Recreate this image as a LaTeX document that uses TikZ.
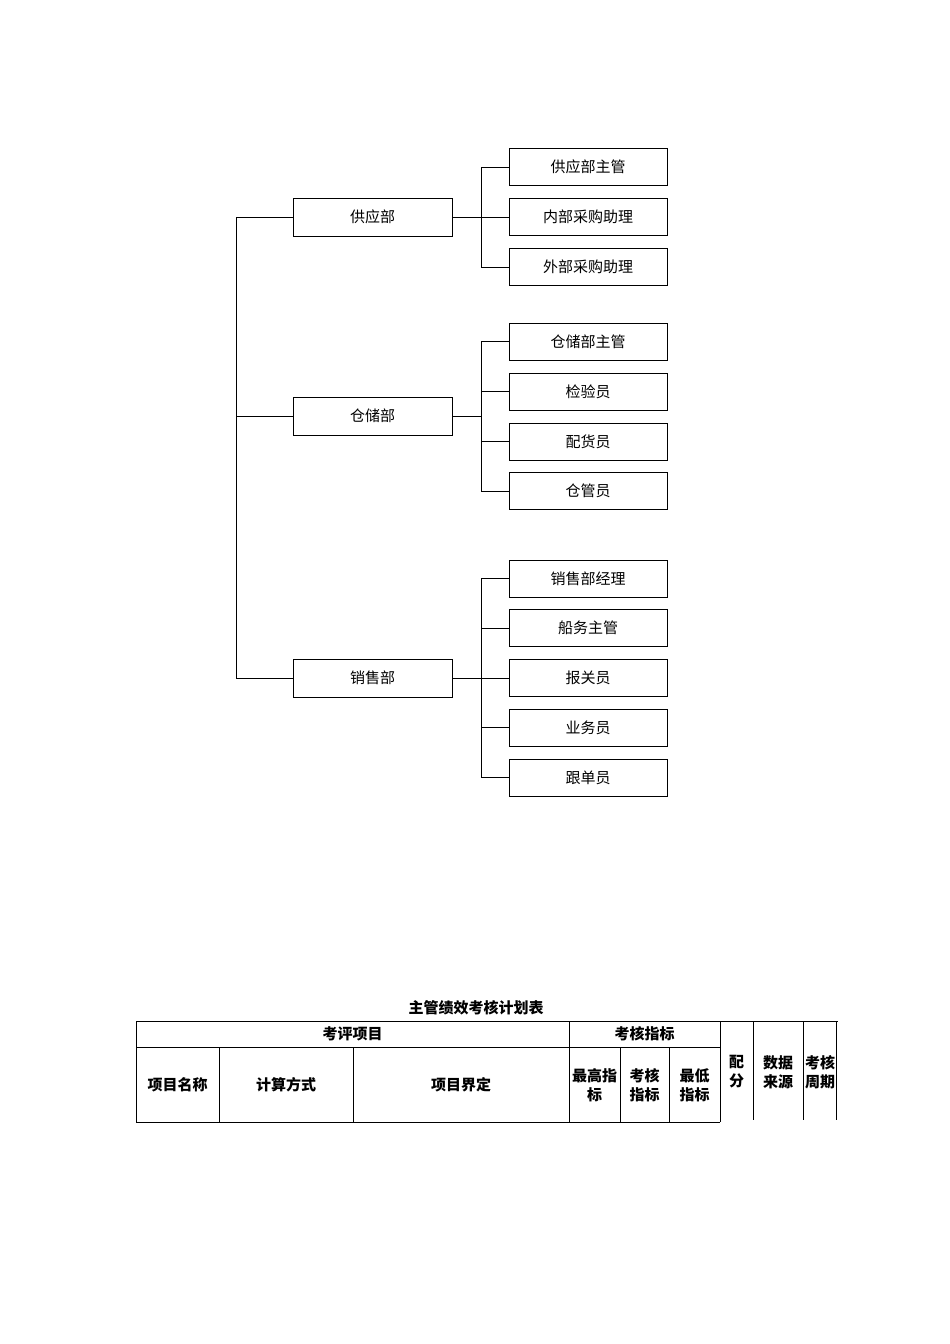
\documentclass[tikz,border=0pt]{standalone}
\usepackage{fontspec}
\newfontfamily\cjk{Noto Sans CJK SC}
\usetikzlibrary{positioning}
\tikzset{
  dept/.style={draw, minimum width=159pt, minimum height=38pt, font=\cjk\fontsize{15}{17}\selectfont},
  post/.style={draw, minimum width=158pt, minimum height=37pt, font=\cjk\fontsize{15}{17}\selectfont},
  cell/.style={font=\cjk\bfseries\fontsize{15}{19}\selectfont, align=center},
}
\begin{document}
\begin{tikzpicture}[x=1pt,y=-1pt,line width=1pt]
\useasboundingbox (0,0) rectangle (950,1344);

% departments
\node[dept] (sup) at (372.5,217) {供应部};
\node[dept] (sto) at (372.5,416) {仓储部};
\node[dept] (sal) at (372.5,678) {销售部};

% posts
\node[post] (s1) at (588,167) {供应部主管};
\node[post] (s2) at (588,217) {内部采购助理};
\node[post] (s3) at (588,267) {外部采购助理};
\node[post] (w1) at (588,341.5) {仓储部主管};
\node[post] (w2) at (588,391.5) {检验员};
\node[post] (w3) at (588,441.5) {配货员};
\node[post] (w4) at (588,491) {仓管员};
\node[post] (x1) at (588,578.5) {销售部经理};
\node[post] (x2) at (588,628) {船务主管};
\node[post] (x3) at (588,678) {报关员};
\node[post] (x4) at (588,727.5) {业务员};
\node[post] (x5) at (588,777.5) {跟单员};

% trunk
\coordinate (t) at (236,0);
\draw (sup.west) -| (t |- sal.west) -- (sal.west);
\draw (t |- sto.west) -- (sto.west);

% branches
\coordinate (b) at (481,0);
\draw (sup.east) -- (b |- sup.east);
\draw (s1.west) -| (b |- s3.west) -- (s3.west);
\draw (b |- s2.west) -- (s2.west);
\draw (sto.east) -- (b |- sto.east);
\draw (w1.west) -| (b |- w4.west) -- (w4.west);
\foreach \n in {w2,w3} \draw (b |- \n.west) -- (\n.west);
\draw (sal.east) -- (b |- sal.east);
\draw (x1.west) -| (b |- x5.west) -- (x5.west);
\foreach \n in {x2,x3,x4} \draw (b |- \n.west) -- (\n.west);

% table
\node[cell] (title) at (476,1008) {主管绩效考核计划表};
\draw (136,1021) -- (838,1021);
\draw (136,1047) -- (720,1047);
\draw (136,1122) -- (720,1122);
\foreach \x in {136,720} \draw (\x,1021) -- (\x,1122);
\foreach \x in {219,353,620,669} \draw (\x,1047) -- (\x,1122);
\draw (569,1021) -- (569,1122);
\foreach \x in {753,803,836} \draw (\x,1021) -- (\x,1120);
\node[cell] (h1) at (352.5,1034) {考评项目};
\node[cell] (h2) at (644.5,1034) {考核指标};
\node[cell] (c1) at (177.5,1085) {项目名称};
\node[cell] (c2) at (286,1085) {计算方式};
\node[cell] (c3) at (461,1085) {项目界定};
\node[cell] (c4) at (594.5,1085) {最高指\\标};
\node[cell] (c5) at (644.5,1085) {考核\\指标};
\node[cell] (c6) at (694.5,1085) {最低\\指标};
\node[cell] (c7) at (736.5,1072) {配\\分};
\node[cell] (c8) at (778,1072) {数据\\来源};
\node[cell] (c9) at (820,1072) {考核\\周期};
\end{tikzpicture}
\end{document}
